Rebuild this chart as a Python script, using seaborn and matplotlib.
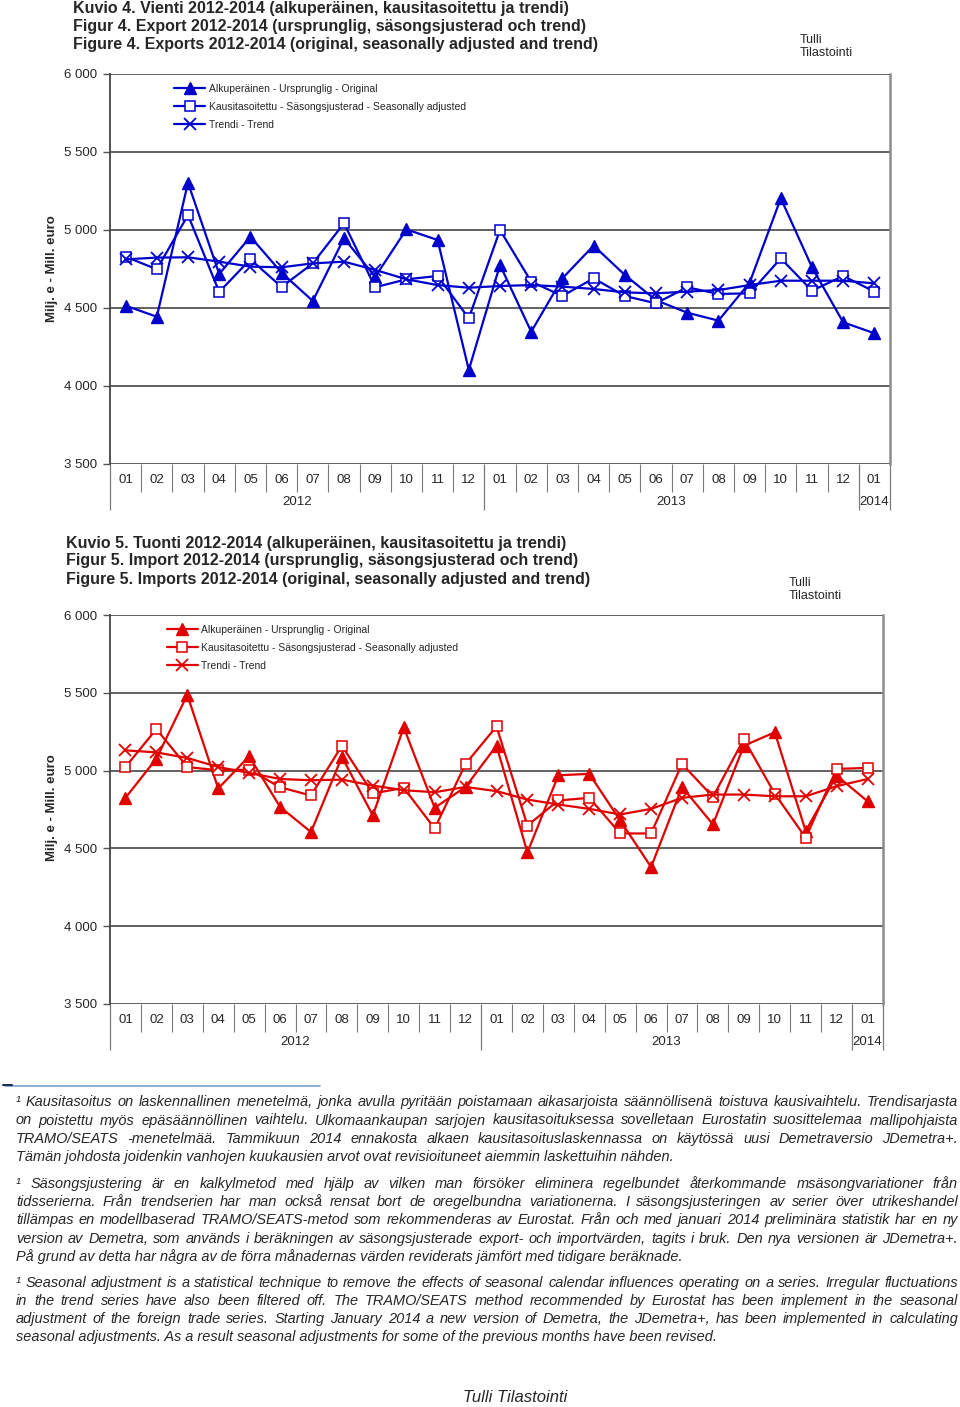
import matplotlib
matplotlib.use("Agg")
import matplotlib.pyplot as plt
import seaborn as sns
import pandas as pd
import numpy as np

# ---------------- data ----------------
months = ["01", "02", "03", "04", "05", "06", "07", "08", "09", "10", "11", "12",
          "01", "02", "03", "04", "05", "06", "07", "08", "09", "10", "11", "12", "01"]
years = ["2012", "2013", "2014"]

exp_original = [4515, 4444, 5303, 4718, 4957, 4726, 4545, 4947, 4700, 5004, 4936, 4103,
                4776, 4348, 4690, 4900, 4712, 4550, 4470, 4419, 4662, 5203, 4761, 4408, 4338]
exp_sa = [4829, 4748, 5096, 4603, 4812, 4635, 4786, 5043, 4633, 4684, 4705, 4434,
          5000, 4669, 4577, 4690, 4577, 4530, 4633, 4590, 4594, 4818, 4611, 4705, 4605]
exp_trend = [4812, 4823, 4825, 4797, 4765, 4761, 4786, 4797, 4744, 4684, 4647, 4630,
             4641, 4647, 4637, 4622, 4600, 4594, 4605, 4615, 4647, 4675, 4675, 4675, 4658]

imp_original = [4825, 5077, 5487, 4885, 5092, 4767, 4605, 5088, 4712, 5278, 4761, 4895,
                5160, 4474, 4970, 4979, 4680, 4380, 4895, 4654, 5160, 5246, 4611, 4968, 4803]
imp_sa = [5023, 5267, 5023, 5002, 5006, 4893, 4840, 5160, 4853, 4889, 4628, 5043,
          5284, 4647, 4808, 4825, 4596, 4596, 5043, 4831, 5203, 4851, 4568, 5011, 5017]
imp_trend = [5130, 5117, 5081, 5023, 4985, 4946, 4938, 4942, 4904, 4874, 4861, 4895,
             4868, 4814, 4782, 4754, 4718, 4754, 4825, 4846, 4846, 4835, 4835, 4900, 4946]

labels = ["Alkuperäinen - Ursprunglig - Original",
          "Kausitasoitettu - Säsongsjusterad - Seasonally adjusted",
          "Trendi - Trend"]

titles_exp = ["Kuvio 4. Vienti 2012-2014 (alkuperäinen, kausitasoitettu ja trendi)",
              "Figur 4. Export 2012-2014 (ursprunglig, säsongsjusterad och trend)",
              "Figure 4. Exports 2012-2014 (original, seasonally adjusted and trend)"]
titles_imp = ["Kuvio 5. Tuonti 2012-2014 (alkuperäinen, kausitasoitettu ja trendi)",
              "Figur 5. Import 2012-2014 (ursprunglig, säsongsjusterad och trend)",
              "Figure 5. Imports 2012-2014 (original, seasonally adjusted and trend)"]

foot_fi = ["¹ Kausitasoitus on laskennallinen menetelmä, jonka avulla pyritään poistamaan aikasarjoista säännöllisenä toistuva kausivaihtelu. Trendisarjasta",
           "on poistettu myös epäsäännöllinen vaihtelu. Ulkomaankaupan sarjojen kausitasoituksessa sovelletaan Eurostatin suosittelemaa mallipohjaista",
           "TRAMO/SEATS -menetelmää. Tammikuun 2014 ennakosta alkaen kausitasoituslaskennassa on käytössä uusi Demetraversio JDemetra+.",
           "Tämän johdosta joidenkin vanhojen kuukausien arvot ovat revisioituneet aiemmin laskettuihin nähden."]
foot_sv = ["¹ Säsongsjustering är en kalkylmetod med hjälp av vilken man försöker eliminera regelbundet återkommande msäsongvariationer från",
           "tidsserierna. Från trendserien har man också rensat bort de oregelbundna variationerna. I säsongsjusteringen av serier över utrikeshandel",
           "tillämpas en modellbaserad TRAMO/SEATS-metod som rekommenderas av Eurostat. Från och med januari 2014 preliminära statistik har en ny",
           "version av Demetra, som används i beräkningen av säsongsjusterade export- och importvärden, tagits i bruk. Den nya versionen är JDemetra+.",
           "På grund av detta har några av de förra månadernas värden reviderats jämfört med tidigare beräknade."]
foot_en = ["¹ Seasonal adjustment is a statistical technique to remove the effects of seasonal calendar influences operating on a series. Irregular fluctuations",
           "in the trend series have also been filtered off. The TRAMO/SEATS method recommended by Eurostat has been implement in the seasonal",
           "adjustment of the foreign trade series. Starting January 2014 a new version of Demetra, the JDemetra+, has been implemented in calculating",
           "seasonal adjustments. As a result seasonal adjustments for some of the previous months have been revised."]

# ---------------- style ----------------
sns.set_style("white")
FN = ["Liberation Sans Narrow", "Liberation Sans", "DejaVu Sans"]
plt.rcParams["font.family"] = FN

W, H = 960, 1407
fig = plt.figure(figsize=(W / 100, H / 100), dpi=100)


def fx(px):
    return px / W


def fy(py):
    return 1 - py / H


GRID = "#555555"


def make_chart(rect, orig, sa, trend, color, titles, title_x, title_y, tulli_xy, ylab_y, leg_anchor):
    ax = fig.add_axes(rect)
    x = np.arange(len(months))
    df = pd.DataFrame({"x": x, "orig": orig, "sa": sa, "trend": trend})
    sns.lineplot(data=df, x="x", y="orig", ax=ax, color=color, lw=1.6, marker="^", markersize=8,
                 markerfacecolor=color, markeredgecolor=color, markeredgewidth=1, label=labels[0])
    sns.lineplot(data=df, x="x", y="sa", ax=ax, color=color, lw=1.6, marker="s", markersize=7,
                 markerfacecolor="white", markeredgecolor=color, markeredgewidth=1.1, label=labels[1])
    sns.lineplot(data=df, x="x", y="trend", ax=ax, color=color, lw=1.6, marker="x", markersize=8,
                 markeredgecolor=color, markeredgewidth=1.3, label=labels[2])
    ax.set_xlim(-0.5, len(months) - 0.5)
    ax.set_ylim(3500, 6000)
    yt = list(range(3500, 6001, 500))
    ax.set_yticks(yt)
    ax.set_yticklabels([f"{v:,}".replace(",", " ") for v in yt], fontsize=9.5)
    for v in yt:
        ax.axhline(v, color=GRID, lw=1.3, zorder=0.5)
    ax.set_xticks(x)
    ax.set_xticklabels(months, fontsize=9.5)
    ax.tick_params(axis="x", length=0, pad=7)
    ax.tick_params(axis="y", length=5, width=1, color=GRID, direction="out", pad=4, left=True)
    ax.set_xlabel("")
    ax.set_ylabel("")
    for s in ["top", "bottom"]:
        ax.spines[s].set_visible(False)
    ax.spines["left"].set_color("#444444")
    ax.spines["left"].set_linewidth(1.3)
    ax.spines["right"].set_color("#8c8c8c")
    ax.spines["right"].set_linewidth(1.8)
    tr = ax.get_xaxis_transform()
    # category separators
    month_sep = [k - 0.5 for k in range(1, len(months))]
    year_sep = [-0.5, 11.5, 23.5, len(months) - 0.5]
    ax.vlines([m for m in month_sep if m not in year_sep], -0.072, 0, transform=tr, clip_on=False,
              color="#7a7a7a", lw=0.8)
    ax.vlines(year_sep, -0.118, 0, transform=tr, clip_on=False, color="#7a7a7a", lw=0.9)
    for yr, xc in zip(years, [5.5, 17.5, 24]):
        ax.text(xc, -0.097, yr, transform=tr, ha="center", va="center", fontsize=9.5)
    leg = ax.legend(loc="upper left", bbox_to_anchor=leg_anchor, frameon=False, fontsize=7.5,
                    handlelength=3.0, handletextpad=0.3, labelspacing=0.75, borderaxespad=0)
    for i, t in enumerate(titles):
        fig.text(fx(title_x), fy(title_y + 18 * i), t, fontsize=11.5, weight="bold", va="center", ha="left")
    fig.text(fx(tulli_xy[0]), fy(tulli_xy[1]), "Tulli", fontsize=9, va="center", ha="left")
    fig.text(fx(tulli_xy[0]), fy(tulli_xy[1] + 13), "Tilastointi", fontsize=9, va="center", ha="left")
    fig.text(fx(52), fy(ylab_y), "Milj. e - Mill. euro", rotation=90, fontsize=9.5, weight="bold",
             va="center", ha="center")
    return ax


make_chart([fx(110), fy(464), fx(780), 390 / H], exp_original, exp_sa, exp_trend, "#0000CC",
           titles_exp, 73, 8, (800, 40), 269, (0.077, 0.985))
make_chart([fx(110), fy(1004), fx(773), 389 / H], imp_original, imp_sa, imp_trend, "#E00000",
           titles_imp, 66, 543, (789, 583), 808, (0.068, 0.985))

# footnote separator
fig.add_artist(plt.Line2D([fx(5), fx(320)], [fy(1086), fy(1086)], color="#7f9fcf", lw=1.2))
fig.add_artist(plt.Line2D([fx(3), fx(12)], [fy(1085), fy(1085)], color="#203050", lw=1.5))

renderer = fig.canvas.get_renderer()


def text_width(s, size):
    t = fig.text(0, 0, s, fontsize=size, style="italic")
    w = t.get_window_extent(renderer).width
    t.remove()
    return w


LEFT, RIGHT = 16, 958
all_just = foot_fi[:-1] + foot_sv[:-1] + foot_en[:-1]
base = 10.5
maxw = max(text_width(l, base) for l in all_just)
FS = min(base, base * (RIGHT - LEFT - 6) / maxw)


def paragraph(lines, y0, dy):
    for i, line in enumerate(lines):
        y = fy(y0 + dy * i)
        if i == len(lines) - 1:
            fig.text(fx(LEFT), y, line, fontsize=FS, style="italic", va="center", ha="left")
            continue
        words = line.split(" ")
        widths = [text_width(w, FS) for w in words]
        gap = (RIGHT - LEFT - sum(widths)) / (len(words) - 1)
        xp = LEFT
        for w, wd in zip(words, widths):
            fig.text(fx(xp), y, w, fontsize=FS, style="italic", va="center", ha="left")
            xp += wd + gap


paragraph(foot_fi, 1102, 18.5)
paragraph(foot_sv, 1184, 18.2)
paragraph(foot_en, 1283, 18)

fig.text(fx(515), fy(1398), "Tulli Tilastointi", fontsize=12, style="italic", ha="center", va="center")

fig.savefig("out.png", dpi=100)
